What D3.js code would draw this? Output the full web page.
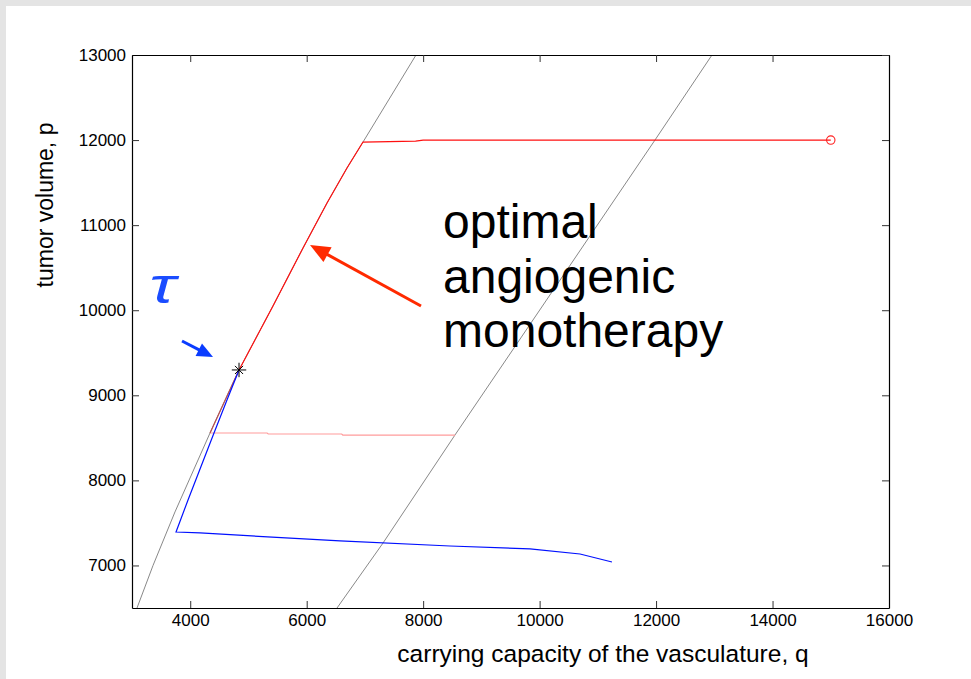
<!DOCTYPE html>
<html><head><meta charset="utf-8">
<script src="https://cdn.jsdelivr.net/npm/d3@7/dist/d3.min.js"></script>
<style>
html,body{margin:0;padding:0;background:#e4e4e4;}
svg{display:block;}
text{font-family:"Liberation Sans",Arial,Helvetica,sans-serif;}
</style></head>
<body>
<script>
// ---- data (q = carrying capacity, p = tumor volume) ----
const xTicks = [4000, 6000, 8000, 10000, 12000, 14000, 16000];
const yTicks = [7000, 8000, 9000, 10000, 11000, 12000, 13000];
const xLabel = "carrying capacity of the vasculature, q";
const yLabel = "tumor volume, p";

// gray boundary curves
const grayLeft = [[3086,6500],[3361,7000],[3738,7629],[4340,8557],[4838,9298],[5421,10050],[5937,10732],[6349,11260],[6692,11672],[6967,11977],[7877,13000]];
const grayRight = [[6521,6500],[7311,7264],[8547,8534],[11982,12001],[12960,13000]];

// optimal angiogenic monotherapy trajectory (red)
const redPath = [[15000,12000],[8000,11999],[7870,11988],[6967,11977],[6692,11672],[6349,11260],[5937,10732],[5421,10050],[4838,9298]];
// lower trajectory (pink) and its part along the boundary
const pinkPath = [[8547,8533],[6620,8533],[6600,8545],[5340,8545],[5320,8557],[4340,8557]];
const pinkBoundary = [[4340,8557],[4838,9298]];
// blue trajectory
const bluePath = [[4838,9298],[4631,8945],[4408,8557],[3962,7770],[3756,7393],[4168,7382],[6572,7288],[8461,7229],[9835,7194],[10694,7135],[11243,7041]];

const startPoint = [15000,12000];
const tauPoint = [4838,9298];

const annoLines = ["optimal","angiogenic","monotherapy"];
const annoPos = [8341,10849];
const redArrow = [[7963,10050],[6057,10767]];
const blueArrow = [[3859,9638],[4391,9450]];
const tauPos = [3300,10080];

// ---- layout ----
const W = 971, H = 679;
const M = {left:132, right:889, top:55, bottom:608};

const svg = d3.select("body").append("svg").attr("width",W).attr("height",H);
svg.append("rect").attr("x",6).attr("y",6).attr("width",W-6).attr("height",H-6).attr("fill","#fff");

const x = d3.scaleLinear().domain([3000,16000]).range([M.left,M.right]);
const y = d3.scaleLinear().domain([6500,13000]).range([M.bottom,M.top]);

const line = d3.line().x(d=>x(d[0])).y(d=>y(d[1]));

const g = svg.append("g");
g.append("defs").append("clipPath").attr("id","clip")
  .append("rect").attr("x",M.left).attr("y",M.top).attr("width",M.right-M.left).attr("height",M.bottom-M.top);

const plot = g.append("g").attr("clip-path","url(#clip)");

[grayLeft, grayRight].forEach(d=>{
  plot.append("path").datum(d).attr("d",line).attr("fill","none").attr("stroke","#7a7a7a").attr("stroke-width",0.9);
});
plot.append("path").datum(pinkPath).attr("d",line).attr("fill","none").attr("stroke","#ff9c9c").attr("stroke-width",1.2);
plot.append("path").datum(pinkBoundary).attr("d",line).attr("fill","none").attr("stroke","#b85050").attr("stroke-width",1.2);
plot.append("path").datum(redPath).attr("d",line).attr("fill","none").attr("stroke","#ff1010").attr("stroke-width",1.2);
plot.append("path").datum(bluePath).attr("d",line).attr("fill","none").attr("stroke","#0010ff").attr("stroke-width",1.2);

// markers
plot.append("circle").attr("cx",x(startPoint[0])).attr("cy",y(startPoint[1])).attr("r",4.2)
  .attr("fill","none").attr("stroke","#ff2020").attr("stroke-width",1.1);
[d3.symbolPlus, d3.symbolTimes].forEach(s=>{
  plot.append("path").attr("d",d3.symbol().type(s).size(s===d3.symbolPlus?70:45)())
    .attr("transform",`translate(${x(tauPoint[0])},${y(tauPoint[1])})`)
    .attr("fill","none").attr("stroke","#000").attr("stroke-width",1);
});

// axes
const fs = 17;
const axB = d3.axisBottom(x).tickValues(xTicks).tickSizeInner(-7).tickSizeOuter(0).tickPadding(6).tickFormat(d3.format("d"));
const axL = d3.axisLeft(y).tickValues(yTicks).tickSizeInner(-7).tickSizeOuter(0).tickPadding(6).tickFormat(d3.format("d"));
const axT = d3.axisTop(x).tickValues(xTicks).tickSizeInner(-7).tickSizeOuter(0).tickFormat("");
const axR = d3.axisRight(y).tickValues(yTicks).tickSizeInner(-7).tickSizeOuter(0).tickFormat("");
function style(sel){
  sel.selectAll("path.domain").attr("stroke","#000").attr("stroke-width",1.2);
  sel.selectAll(".tick line").attr("stroke","#333").attr("stroke-width",1);
  sel.selectAll(".tick text").attr("font-size",fs).attr("fill","#000").attr("font-family","Liberation Sans, Arial, sans-serif");
}
style(g.append("g").attr("transform",`translate(0,${M.bottom})`).call(axB));
style(g.append("g").attr("transform",`translate(${M.left},0)`).call(axL));
style(g.append("g").attr("transform",`translate(0,${M.top})`).call(axT));
style(g.append("g").attr("transform",`translate(${M.right},0)`).call(axR));

// axis labels
g.append("text").attr("x",603).attr("y",662).attr("text-anchor","middle").attr("font-size",24.5).text(xLabel);
g.append("text").attr("transform","translate(53,205) rotate(-90)").attr("text-anchor","middle").attr("font-size",23).text(yLabel);

// annotation text
const at = g.append("text").attr("font-size",48).attr("fill","#000");
annoLines.forEach((t,i)=>{
  at.append("tspan").attr("x",x(annoPos[0])).attr("y",y(annoPos[1]) + i*54.5).text(t);
});

// arrows
function arrow(pts, color, w, headLen, headW){
  const [x0,y0] = [x(pts[0][0]), y(pts[0][1])];
  const [x1,y1] = [x(pts[1][0]), y(pts[1][1])];
  const dx = x1-x0, dy = y1-y0, L = Math.hypot(dx,dy);
  const ux = dx/L, uy = dy/L;
  const bx = x1 - ux*headLen, by = y1 - uy*headLen;
  g.append("line").attr("x1",x0).attr("y1",y0).attr("x2",bx+ux*2).attr("y2",by+uy*2)
    .attr("stroke",color).attr("stroke-width",w);
  g.append("path").attr("d",`M${x1},${y1}L${bx - uy*headW/2},${by + ux*headW/2}L${bx + uy*headW/2},${by - ux*headW/2}Z`)
    .attr("fill",color);
}
arrow(redArrow, "#ff2a00", 3, 20, 17);
arrow(blueArrow, "#0a3cff", 3, 16, 14);

// tau label
g.append("text").attr("transform",`translate(${x(tauPos[0])},${y(tauPos[1])}) scale(1.4,1)`).attr("font-size",50)
  .attr("font-style","italic").attr("font-family","DejaVu Sans, sans-serif").attr("font-weight","300").attr("fill","#1a4cff").text("τ");
</script>
</body></html>
